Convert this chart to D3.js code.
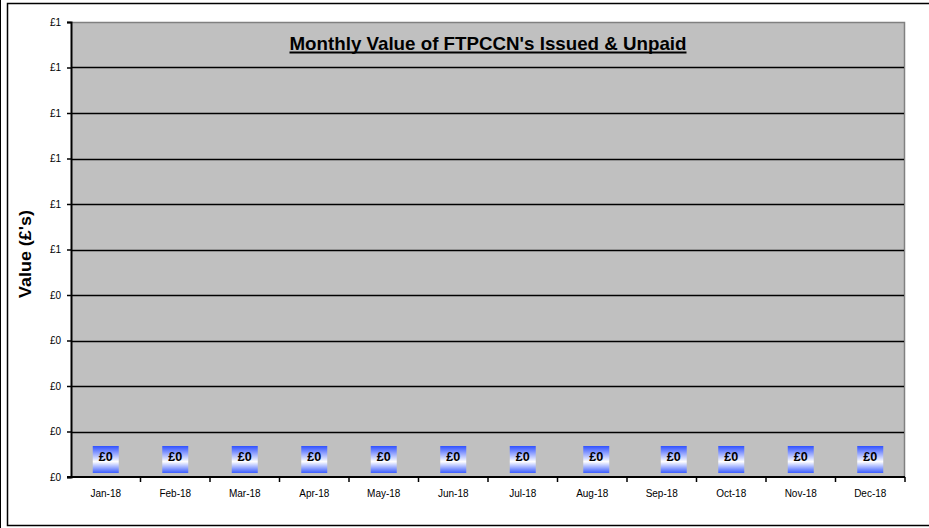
<!DOCTYPE html>
<html>
<head>
<meta charset="utf-8">
<script src="https://cdn.jsdelivr.net/npm/d3@7"></script>
<style>
  html, body { margin: 0; padding: 0; background: #fff; }
  svg { display: block; }
</style>
</head>
<body>
<svg id="chart"></svg>
<script>
'use strict';

// chart data
const months = ['Jan-18', 'Feb-18', 'Mar-18', 'Apr-18', 'May-18', 'Jun-18',
  'Jul-18', 'Aug-18', 'Sep-18', 'Oct-18', 'Nov-18', 'Dec-18'];
const values = [0, 0, 0, 0, 0, 0, 0, 0, 0, 0, 0, 0];
const yTicks = [0, 0.1, 0.2, 0.3, 0.4, 0.5, 0.6, 0.7, 0.8, 0.9, 1.0];
const title = "Monthly Value of FTPCCN's Issued & Unpaid";
const yTitle = "Value (£'s)";

// a couple of data labels were dragged sideways in the original
const labelNudge = { 'Aug-18': 4, 'Sep-18': 12 };

const width = 929;
const height = 528;
const margin = { top: 22, right: 24, bottom: 51, left: 71 };

const svg = d3.select('#chart')
  .attr('width', width)
  .attr('height', height);

// outer frame
svg.append('line')
  .attr('x1', 0.5).attr('x2', 0.5)
  .attr('y1', 0).attr('y2', height)
  .style('stroke', '#000');
svg.append('rect')
  .attr('x', 7.5).attr('y', 3.5)
  .attr('width', width + 10).attr('height', 522)
  .style('fill', 'none')
  .style('stroke', '#000')
  .style('stroke-width', '1.5px');

const x = d3.scaleBand()
  .domain(months)
  .range([margin.left, width - margin.right]);

const y = d3.scaleLinear()
  .domain([0, 1])
  .range([height - margin.bottom, margin.top]);

// plot area
svg.append('rect')
  .attr('x', margin.left)
  .attr('y', margin.top)
  .attr('width', width - margin.right - margin.left)
  .attr('height', height - margin.bottom - margin.top)
  .style('fill', '#c0c0c0');

// top/right border in grey
svg.append('path')
  .attr('d', `M${margin.left},${margin.top + 0.5}H${width - margin.right - 0.5}V${height - margin.bottom}`)
  .style('fill', 'none')
  .style('stroke', '#808080')
  .style('stroke-width', '1.5px');

// gridlines
svg.append('g')
  .selectAll('line')
  .data(yTicks.filter(d => d > 0 && d < 1))
  .enter()
  .append('line')
  .attr('x1', margin.left)
  .attr('x2', width - margin.right - 1)
  .attr('y1', d => Math.round(y(d)) + 0.5)
  .attr('y2', d => Math.round(y(d)) + 0.5)
  .style('stroke', '#000')
  .style('stroke-width', '1.4px');

// y axis
const yAxis = svg.append('g')
  .attr('transform', `translate(${margin.left},0)`)
  .call(d3.axisLeft(y)
    .tickValues(yTicks)
    .tickSize(4)
    .tickPadding(6)
    .tickFormat(d => '£' + Math.round(d)));
yAxis.select('.domain').style('stroke', '#000').style('stroke-width', '2px');
yAxis.selectAll('.tick line').style('stroke', '#000').style('stroke-width', '1.5px');
yAxis.selectAll('text')
  .style('font-family', 'Arial, "Liberation Sans", sans-serif')
  .style('font-size', '10px')
  .style('fill', '#000');

// x axis with ticks between categories
const xAxisG = svg.append('g')
  .attr('transform', `translate(0,${height - margin.bottom})`);
xAxisG.append('line')
  .attr('x1', margin.left - 4)
  .attr('x2', width - margin.right)
  .style('stroke', '#000')
  .style('stroke-width', '2px');
xAxisG.selectAll('.sep')
  .data(months)
  .enter()
  .append('line')
  .attr('class', 'sep')
  .attr('x1', d => x(d) + x.bandwidth())
  .attr('x2', d => x(d) + x.bandwidth())
  .attr('y1', 0)
  .attr('y2', 5)
  .style('stroke', '#000')
  .style('stroke-width', '1.5px');
xAxisG.selectAll('.lbl')
  .data(months)
  .enter()
  .append('text')
  .attr('class', 'lbl')
  .attr('x', d => x(d) + x.bandwidth() / 2)
  .attr('y', 20)
  .attr('text-anchor', 'middle')
  .style('font-family', 'Arial, "Liberation Sans", sans-serif')
  .style('font-size', '10px')
  .text(d => d);

// bars (all zero)
svg.append('g')
  .selectAll('rect')
  .data(values)
  .enter()
  .append('rect')
  .attr('x', (d, i) => x(months[i]) + x.bandwidth() * 0.2)
  .attr('width', x.bandwidth() * 0.6)
  .attr('y', d => y(d))
  .attr('height', d => y(0) - y(d))
  .style('fill', '#3355ff');

// data labels with gradient fill
const grad = svg.append('defs')
  .append('linearGradient')
  .attr('id', 'lblGrad')
  .attr('x1', 0).attr('x2', 0)
  .attr('y1', 0).attr('y2', 1);
grad.append('stop').attr('offset', '0%').attr('stop-color', '#2f50ff');
grad.append('stop').attr('offset', '58%').attr('stop-color', '#ffffff');
grad.append('stop').attr('offset', '100%').attr('stop-color', '#3a5cff');

const boxW = 26;
const boxH = 27;

const labels = svg.append('g')
  .selectAll('g')
  .data(values)
  .enter()
  .append('g')
  .attr('transform', function(d, i) {
    const cx = x(months[i]) + x.bandwidth() / 2 + (labelNudge[months[i]] || 0);
    const top = y(d) - 4 - boxH;
    return `translate(${cx},${top})`;
  });

labels.append('rect')
  .attr('x', -boxW / 2)
  .attr('width', boxW)
  .attr('height', boxH)
  .style('fill', 'url(#lblGrad)');

labels.append('text')
  .attr('y', boxH / 2 + 1.5)
  .attr('text-anchor', 'middle')
  .attr('textLength', 14)
  .attr('lengthAdjust', 'spacingAndGlyphs')
  .style('font-family', 'Arial, "Liberation Sans", sans-serif')
  .style('font-size', '13px')
  .style('font-weight', 'bold')
  .text(d => '£' + d3.format('.0f')(d));

// title
const titleX = (margin.left + width - margin.right) / 2;
svg.append('text')
  .attr('x', titleX)
  .attr('y', 49.5)
  .attr('text-anchor', 'middle')
  .attr('textLength', 397)
  .attr('lengthAdjust', 'spacingAndGlyphs')
  .style('font-family', '"Liberation Sans Narrow", "Arial Narrow", Arial, sans-serif')
  .style('font-size', '19px')
  .style('font-weight', 'bold')
  .text(title);
svg.append('line')
  .attr('x1', titleX - 198.5)
  .attr('x2', titleX + 198.5)
  .attr('y1', 52.5)
  .attr('y2', 52.5)
  .style('stroke', '#000')
  .style('stroke-width', '2px');

// y axis title
svg.append('text')
  .attr('transform', `translate(31,254) rotate(-90)`)
  .attr('text-anchor', 'middle')
  .attr('textLength', 88)
  .attr('lengthAdjust', 'spacingAndGlyphs')
  .style('font-family', 'Arial, "Liberation Sans", sans-serif')
  .style('font-size', '16.5px')
  .style('font-weight', 'bold')
  .text(yTitle);
</script>
</body>
</html>
